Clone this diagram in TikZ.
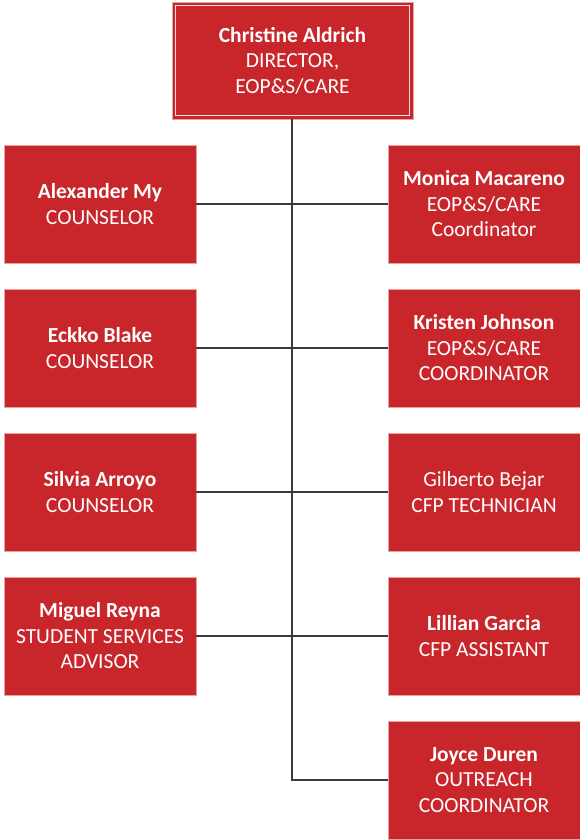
\documentclass[tikz,border=0pt]{standalone}
\usepackage{fontspec}
\setmainfont{Carlito}
\definecolor{boxred}{HTML}{C8262A}
\definecolor{boxedge}{HTML}{E6A3A3}
\definecolor{linegray}{HTML}{3A3A3A}
\begin{document}
\begin{tikzpicture}[x=1pt,y=-1pt,
  person/.style={draw=boxedge,line width=0.8pt,fill=boxred,text=white,align=center,
    minimum width=192pt,minimum height=118pt,inner sep=0pt,
    font=\fontsize{21.5}{25.5}\selectfont},
  link/.style={draw=linegray,line width=1.6pt}]
\useasboundingbox (0,0) rectangle (579,840);
% top box
\node[person,minimum width=241pt,minimum height=117pt] (dir) at (292.5,60.5)
  {\textbf{Christine Aldrich}\\DIRECTOR,\\EOP\&S/CARE};
\draw[white,line width=1.2pt,opacity=0.85] ([shift={(4,4)}]dir.north west) rectangle ([shift={(-4,-4)}]dir.south east);
% left column
\node[person] (l1) at (100,204) {\textbf{Alexander My}\\COUNSELOR};
\node[person] (l2) at (100,348) {\textbf{Eckko Blake}\\COUNSELOR};
\node[person] (l3) at (100,492) {\textbf{Silvia Arroyo}\\COUNSELOR};
\node[person] (l4) at (100,636) {\textbf{Miguel Reyna}\\STUDENT SERVICES\\ADVISOR};
% right column
\node[person] (r1) at (484,204) {\textbf{Monica Macareno}\\EOP\&S/CARE\\Coordinator};
\node[person] (r2) at (484,348) {\textbf{Kristen Johnson}\\EOP\&S/CARE\\COORDINATOR};
\node[person] (r3) at (484,492) {Gilberto Bejar\\CFP TECHNICIAN};
\node[person] (r4) at (484,636) {\textbf{Lillian Garcia}\\CFP ASSISTANT};
\node[person] (r5) at (484,780) {\textbf{Joyce Duren}\\OUTREACH\\COORDINATOR};
% connectors
\coordinate (trunk) at (292,780);
\draw[link] (dir.south -| trunk) -- (trunk) -- (r5.west);
\foreach \n in {l1,l2,l3,l4} \draw[link] (\n.east) -- (\n.east -| trunk);
\foreach \n in {r1,r2,r3,r4} \draw[link] (\n.west) -- (\n.west -| trunk);
\end{tikzpicture}
\end{document}
